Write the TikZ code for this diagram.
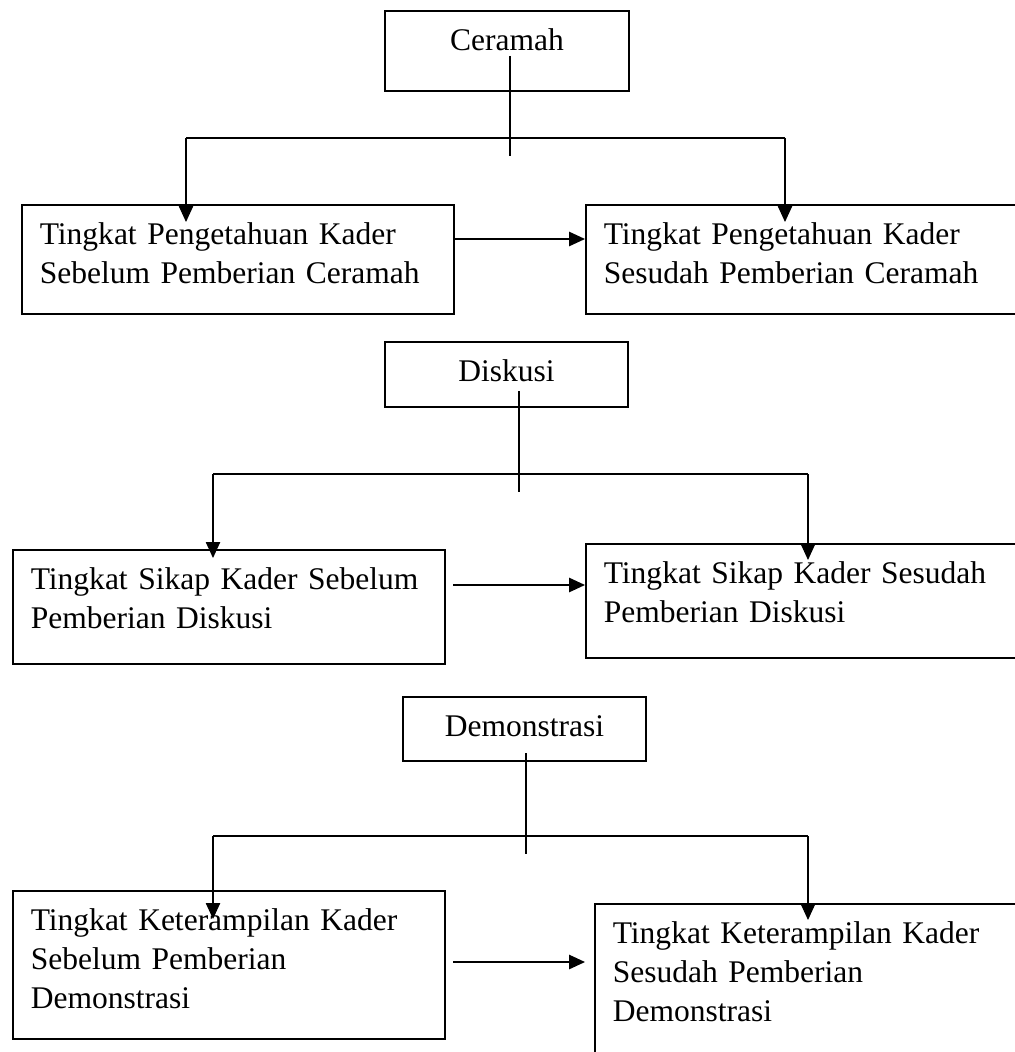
\documentclass[tikz,border=0pt]{standalone}
\usepackage{fontspec}
\setmainfont{Liberation Serif}
\usetikzlibrary{arrows.meta}

\tikzset{
  every node/.style={font=\fontsize{11.85pt}{14.5pt}\selectfont},
  judul/.style={draw, line width=0.75pt, anchor=north west, align=center,
                inner sep=0pt, text height=15pt},
  kotak/.style={draw, line width=0.75pt, anchor=north west, align=left,
                text width=149pt, inner xsep=6.7pt, inner ysep=0pt, text height=15pt},
  garis/.style={line width=0.4pt},
  panah/.style={-{Triangle[length=6pt,width=5.4pt]}, line width=0.4pt},
  panahtebal/.style={-{Triangle[length=6pt,width=5.4pt]}, line width=0.6pt},
}

\begin{document}
\begin{tikzpicture}[x=0.376pt, y=-0.376pt]

\useasboundingbox (0,0) rectangle (1014,1052);

%---------------------------------------
% Ceramah
%---------------------------------------
\node[judul, minimum width=91.7pt, text depth=15.1pt] (ceramah) at (384,10) {Ceramah};

\node[kotak, text depth=26pt] (tahuPre) at (21,204)
  {Tingkat Pengetahuan Kader\\Sebelum Pemberian Ceramah};
\node[kotak, text depth=26pt] (tahuPost) at (585,204)
  {Tingkat Pengetahuan Kader\\Sesudah Pemberian Ceramah};

\coordinate (c1a) at (510,56);
\coordinate (c1b) at (510,156);
\coordinate (c1l) at (186,138);
\coordinate (c1r) at (785,138);
\coordinate (c1lt) at (186,222);
\coordinate (c1rt) at (785,222);

\draw[garis] (c1a) -- (c1b);
\draw[garis] (c1l) -- (c1r);
\draw[panah] (c1l) -- (c1lt);
\draw[panah] (c1r) -- (c1rt);
\draw[panahtebal] (tahuPre.east |- 0,239) -- (tahuPost.west |- 0,239);

%---------------------------------------
% Diskusi
%---------------------------------------
\node[judul, minimum width=91.4pt, text depth=9.4pt] (diskusi) at (384,341) {Diskusi};

\node[kotak, text depth=27.9pt] (sikapPre) at (12,549)
  {Tingkat Sikap Kader Sebelum\\Pemberian Diskusi};
\node[kotak, text depth=27.9pt] (sikapPost) at (585,543)
  {Tingkat Sikap Kader Sesudah\\Pemberian Diskusi};

\coordinate (c2a) at (519,391);
\coordinate (c2b) at (519,492);
\coordinate (c2l) at (213,474);
\coordinate (c2r) at (808,474);
\coordinate (c2lt) at (213,558);
\coordinate (c2rt) at (808,560);
\coordinate (c2s) at (453,585);

\draw[garis] (c2a) -- (c2b);
\draw[garis] (c2l) -- (c2r);
\draw[panah] (c2l) -- (c2lt);
\draw[panah] (c2r) -- (c2rt);
\draw[panahtebal] (c2s) -- (sikapPost.west |- c2s);

%---------------------------------------
% Demonstrasi
%---------------------------------------
\node[judul, minimum width=91.4pt, text depth=9.1pt] (demo) at (402,696) {Demonstrasi};

\node[kotak, text depth=40.6pt] (trampilPre) at (12,890)
  {Tingkat Keterampilan Kader\\Sebelum Pemberian\\Demonstrasi};
\node[kotak, text depth=60.2pt] (trampilPost) at (594,903)
  {Tingkat Keterampilan Kader\\Sesudah Pemberian\\Demonstrasi};

\coordinate (c3a) at (526,753);
\coordinate (c3b) at (526,854);
\coordinate (c3l) at (213,836);
\coordinate (c3r) at (808,836);
\coordinate (c3lt) at (213,919);
\coordinate (c3rt) at (808,920);
\coordinate (c3s) at (453,962);
\coordinate (c3e) at (585,962);

\draw[garis] (c3a) -- (c3b);
\draw[garis] (c3l) -- (c3r);
\draw[panah] (c3l) -- (c3lt);
\draw[panah] (c3r) -- (c3rt);
\draw[panahtebal] (c3s) -- (c3e);

\end{tikzpicture}
\end{document}
